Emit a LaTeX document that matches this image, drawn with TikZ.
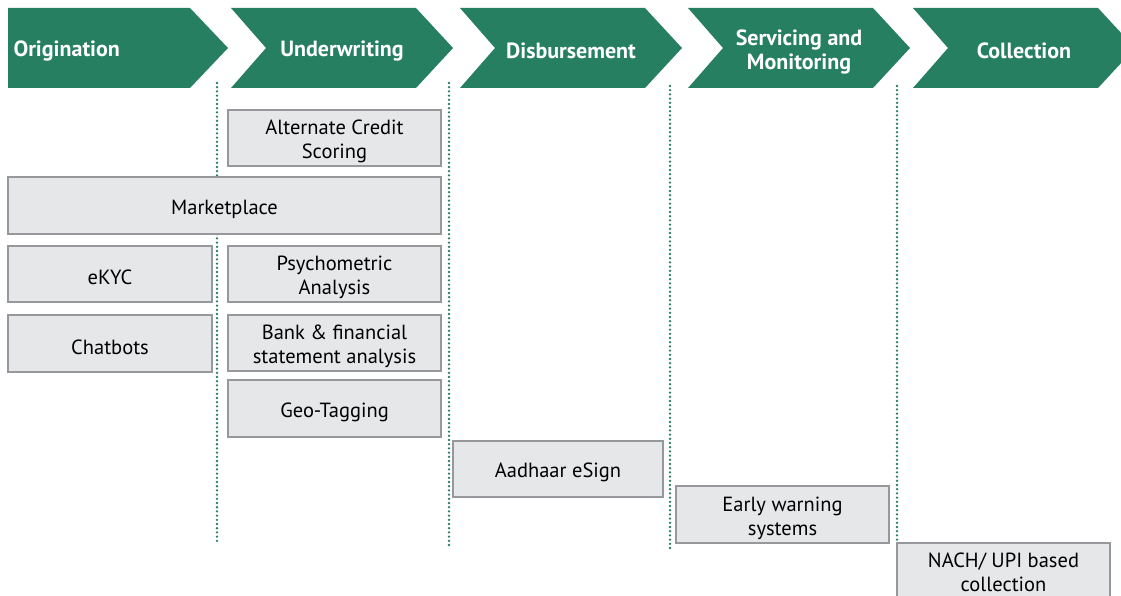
\documentclass[tikz,border=0pt]{standalone}
\usepackage{fontspec}
\setmainfont{PT Sans}
\definecolor{stagegreen}{RGB}{38,127,96}
\definecolor{boxgray}{RGB}{230,231,232}
\definecolor{boxline}{RGB}{150,152,155}
\tikzset{
  stage/.style={fill=stagegreen, draw=none},
  stagelabel/.style={text=white, font=\fontsize{22}{24}\selectfont\bfseries, align=center},
  tool/.style={draw=boxline, fill=boxgray, line width=1.2pt, inner sep=0pt},
  tooltext/.style={align=center, yshift=-3.5pt, font=\fontsize{20.5}{24}\selectfont},
  divider/.style={draw=stagegreen, line width=2.6pt, line cap=round, dash pattern=on 0pt off 4.2pt}
}
\begin{document}
\begin{tikzpicture}[x=1pt, y=-1pt]
  \useasboundingbox (0,0) rectangle (1121,596);
  \clip (0,0) rectangle (1121,596);
  % stages
  \fill [stage] (8,8) -- (190,8) -- (228,48) -- (190,88) -- (8,88) -- cycle;
  \foreach \l in {231,460,688,913}
    \fill [stage] (\l,8) -- (\l+185,8) -- (\l+222,48) -- (\l+185,88) -- (\l,88) -- (\l+35,48) -- cycle;
  \node [stagelabel, anchor=west] (orig) at (10,51) {Origination};
  \node [stagelabel] (under) at (342,51) {Underwriting};
  \node [stagelabel] (disb) at (571,51) {Disbursement};
  \node [stagelabel] (serv) at (799,51.5) {Servicing and\\Monitoring};
  \node [stagelabel] (coll) at (1024,51) {Collection};
  % dividers
  \coordinate (d1) at (217,83);
  \coordinate (d2) at (449,83);
  \coordinate (d3) at (670,86);
  \coordinate (d4) at (897,86);
  \draw [divider] (d1) -- (217,543);
  \draw [divider] (d2) -- (449,548);
  \draw [divider] (d3) -- (670,550);
  \draw [divider] (d4) -- (897,541);
  % tools
  \node [tool, minimum width=213, minimum height=56,
    label={[tooltext]center:Alternate Credit\\Scoring}] (acs) at (334.5,138) {};
  \node [tool, minimum width=433, minimum height=57,
    label={[tooltext]center:Marketplace}] (market) at (224.5,205.5) {};
  \node [tool, minimum width=204, minimum height=56,
    label={[tooltext]center:eKYC}] (ekyc) at (110,274) {};
  \node [tool, minimum width=213, minimum height=56,
    label={[tooltext]center:Psychometric\\Analysis}] (psycho) at (334.5,274) {};
  \node [tool, minimum width=204, minimum height=57,
    label={[tooltext]center:Chatbots}] (chat) at (110,343.5) {};
  \node [tool, minimum width=213, minimum height=56,
    label={[tooltext]center:Bank \& financial\\statement analysis}] (bank) at (334.5,343) {};
  \node [tool, minimum width=213, minimum height=57,
    label={[tooltext]center:Geo-Tagging}] (geo) at (334.5,408.5) {};
  \node [tool, minimum width=210, minimum height=56,
    label={[tooltext]center:Aadhaar eSign}] (esign) at (558,469) {};
  \node [tool, minimum width=213, minimum height=57,
    label={[tooltext]center:Early warning\\systems}] (ews) at (782.5,514.5) {};
  \node [tool, minimum width=213, minimum height=57,
    label={[tooltext, yshift=3pt]center:NACH/ UPI based\\collection}] (nach) at (1003.5,571.5) {};
\end{tikzpicture}
\end{document}
